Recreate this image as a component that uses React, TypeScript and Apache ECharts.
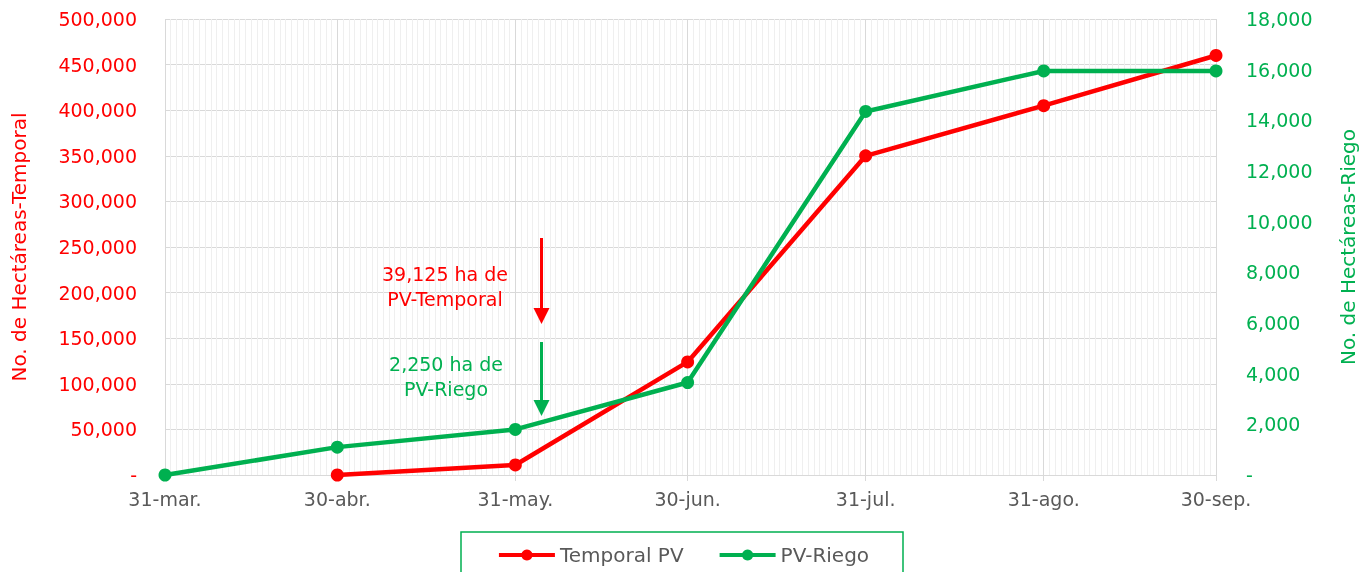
import React, { useEffect, useRef } from "react";
import * as echarts from "echarts";

const monthEndDates = ["2023-03-31", "2023-04-30", "2023-05-31", "2023-06-30", "2023-07-31", "2023-08-31", "2023-09-30"];
const xLabels = ["31-mar.", "30-abr.", "31-may.", "30-jun.", "31-jul.", "31-ago.", "30-sep."];
const temporalPV = [null, 0, 11000, 124000, 350000, 405000, 460000];
const pvRiego = [0, 1100, 1800, 3650, 14350, 15950, 15950];

const FONT = "DejaVu Sans";
const RED = "#ff0000";
const GREEN = "#00b050";
const GRAY_TEXT = "#595959";

function buildDays(): string[] {
  const out: string[] = [];
  const start = Date.UTC(2023, 2, 31);
  const end = Date.UTC(2023, 8, 30);
  for (let t = start; t <= end; t += 86400000) {
    out.push(new Date(t).toISOString().slice(0, 10));
  }
  return out;
}

const fmt = (v: number) => (v === 0 ? "-" : v.toLocaleString("en-US"));

export default function App() {
  const ref = useRef<HTMLDivElement>(null);
  useEffect(() => {
    document.body.style.margin = "0";
    const chart = echarts.init(ref.current!, null, { renderer: "svg" });
    const days = buildDays();
    const labelMap: Record<string, string> = {};
    monthEndDates.forEach((d, i) => (labelMap[d] = xLabels[i]));
    const majorSet = new Set(monthEndDates.map((d) => days.indexOf(d)));
    const isMajor = (i: number) => majorSet.has(i);
    const isMinor = (i: number) => !majorSet.has(i);

    const tData = monthEndDates
      .map((d, i) => [d, temporalPV[i]])
      .filter((p) => p[1] !== null);
    const rData = monthEndDates.map((d, i) => [d, pvRiego[i]]);

    const arrow = (x: number, y1: number, y2: number, color: string) => ({
      type: "polygon",
      silent: true,
      z: 100,
      shape: {
        points: [
          [x - 1.5, y1],
          [x + 1.5, y1],
          [x + 1.5, y2 - 16],
          [x + 8, y2 - 16],
          [x, y2],
          [x - 8, y2 - 16],
          [x - 1.5, y2 - 16],
        ],
      },
      style: { fill: color, stroke: null, lineWidth: 0 },
    });

    const option: any = {
      animation: false,
      textStyle: { fontFamily: FONT },
      grid: { left: 165, right: 149, top: 19, bottom: 97, containLabel: false },
      legend: {
        data: ["Temporal PV", "PV-Riego"],
        left: "center",
        top: 540,
        itemWidth: 56,
        itemHeight: 14,
        itemGap: 34,
        lineStyle: { width: 4 },
        textStyle: { color: GRAY_TEXT, fontSize: 20, fontFamily: FONT },
      },
      xAxis: [
        {
          type: "category",
          data: days,
          boundaryGap: false,
          axisLine: { lineStyle: { color: "#d9d9d9", width: 1 } },
          axisTick: { show: true, interval: (i: number) => isMajor(i), length: 6, lineStyle: { color: "#d9d9d9" } },
          axisLabel: {
            interval: (i: number) => isMajor(i),
            formatter: (v: string) => labelMap[v] || "",
            color: GRAY_TEXT,
            fontSize: 19,
            fontFamily: FONT,
            margin: 14,
          },
          splitLine: { show: true, interval: (i: number) => isMajor(i), lineStyle: { color: "#d9d9d9", width: 1 } },
        },
        {
          type: "category",
          data: days,
          boundaryGap: false,
          position: "bottom",
          axisLine: { show: false },
          axisTick: { show: false },
          axisLabel: { show: false },
          splitLine: { show: true, interval: (i: number) => isMinor(i), lineStyle: { color: "#efefef", width: 1 } },
        },
      ],
      yAxis: [
        {
          type: "value",
          min: 0,
          max: 500000,
          interval: 50000,
          position: "left",
          axisLine: { show: false },
          axisTick: { show: false },
          axisLabel: { color: RED, fontSize: 19, fontFamily: FONT, margin: 28, formatter: fmt },
          splitLine: { show: true, lineStyle: { color: "#d9d9d9", width: 1 } },
          name: "No. de Hectáreas-Temporal",
          nameLocation: "middle",
          nameRotate: 90,
          nameGap: 136,
          nameTextStyle: { color: RED, fontSize: 20, fontFamily: FONT },
        },
        {
          type: "value",
          min: 0,
          max: 18000,
          interval: 2000,
          position: "right",
          axisLine: { show: false },
          axisTick: { show: false },
          axisLabel: { color: GREEN, fontSize: 19, fontFamily: FONT, margin: 30, formatter: fmt },
          splitLine: { show: false },
          name: "No. de Hectáreas-Riego",
          nameLocation: "middle",
          nameRotate: 90,
          nameGap: 122,
          nameTextStyle: { color: GREEN, fontSize: 20, fontFamily: FONT },
        },
      ],
      series: [
        {
          name: "Temporal PV",
          type: "line",
          xAxisIndex: 0,
          yAxisIndex: 0,
          data: tData,
          symbol: "circle",
          symbolSize: 13,
          lineStyle: { color: RED, width: 4.5 },
          itemStyle: { color: RED },
          z: 3,
        },
        {
          name: "PV-Riego",
          type: "line",
          xAxisIndex: 0,
          yAxisIndex: 1,
          data: rData,
          symbol: "circle",
          symbolSize: 13,
          lineStyle: { color: GREEN, width: 4.5 },
          itemStyle: { color: GREEN },
          z: 4,
        },
      ],
      graphic: [
        {
          type: "rect",
          silent: true,
          z: 100,
          shape: { x: 461, y: 532, width: 442, height: 60 },
          style: { fill: "none", stroke: GREEN, lineWidth: 1.5 },
        },
        {
          type: "text",
          silent: true,
          z: 100,
          x: 445,
          y: 286,
          style: {
            text: "39,125 ha de\nPV-Temporal",
            fill: RED,
            fontSize: 19,
            fontFamily: FONT,
            fontWeight: 500,
            align: "center",
            verticalAlign: "middle",
            lineHeight: 25,
          },
        },
        {
          type: "text",
          silent: true,
          z: 100,
          x: 446,
          y: 376,
          style: {
            text: "2,250 ha de\nPV-Riego",
            fill: GREEN,
            fontSize: 19,
            fontFamily: FONT,
            fontWeight: 500,
            align: "center",
            verticalAlign: "middle",
            lineHeight: 25,
          },
        },
        arrow(541.5, 238, 324, RED),
        arrow(541.5, 342, 416, GREEN),
      ],
    };
    chart.setOption(option);
    return () => chart.dispose();
  }, []);
  return <div ref={ref} style={{ position: "fixed", left: 0, top: 0, width: 1366, height: 572 }} />;
}
